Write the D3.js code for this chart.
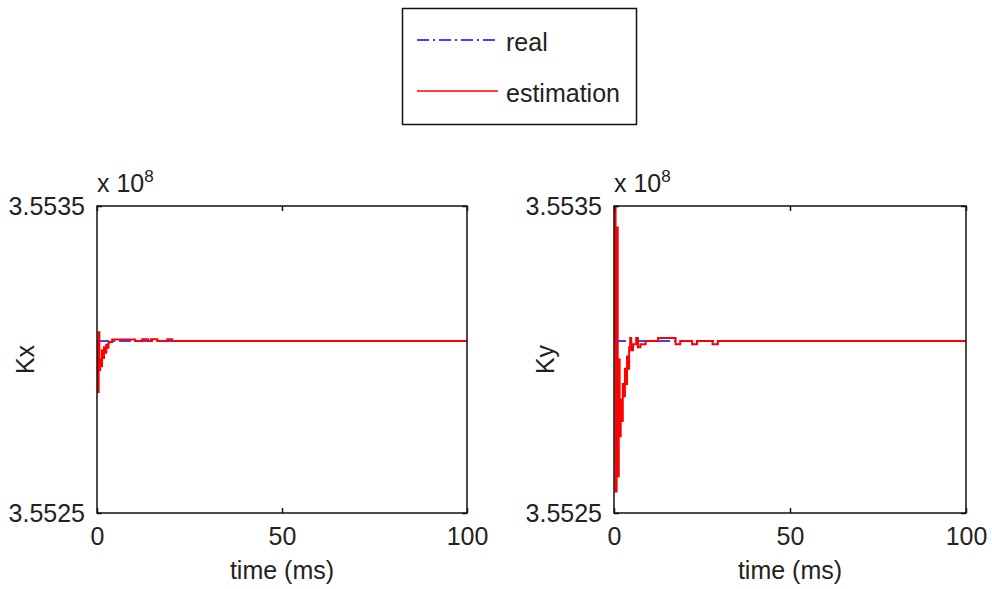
<!DOCTYPE html>
<html>
<head>
<meta charset="utf-8">
<script src="https://cdn.jsdelivr.net/npm/d3@7"></script>
<style>
  html, body { margin: 0; padding: 0; background: #fff; }
  text { font-family: "Liberation Sans", Arial, sans-serif; fill: #222; }
</style>
</head>
<body>
<svg id="chart" width="992" height="589"></svg>
<script>
// ---- data (values in units of 1e8) ----
const xTicks = [0, 50, 100];
const yTicks = [3.5525, 3.5535];
const yTickLabels = ["3.5525", "3.5535"];
const xDomain = [0, 100];
const yDomain = [3.5525, 3.5535];
const realValue = 3.55306;

const realTime = [0, 100];
const realKx = [realValue, realValue];
const realKy = [realValue, realValue];

const kxTime = [0, 0.2, 0.45, 0.65, 0.85, 1.1, 1.35, 1.6, 1.9, 2.2, 2.5, 2.8, 3.1, 3.4, 4.1, 10.3, 12.2, 13.8, 14.6, 16.3, 19.0, 20.3, 100];
const kxEst  = [3.55306, 3.552894, 3.553089, 3.552966, 3.553000, 3.552978, 3.553030, 3.553005, 3.553040, 3.553022, 3.553048, 3.553038, 3.553055, 3.553057, 3.553065, 3.55306, 3.553066, 3.55306, 3.553066, 3.55306, 3.553066, 3.55306, 3.55306];

const kyTime = [0, 0.2, 0.45, 0.75, 1.05, 1.35, 1.6, 1.9, 2.2, 2.5, 2.8, 3.1, 3.4, 3.7, 4.0, 4.3, 4.6, 4.9, 5.4, 6.3, 6.8, 7.5, 9.0, 12.5, 17.5, 18.8, 22.2, 23.6, 28.0, 29.5, 100];
const kyEst  = [3.55306, 3.55352, 3.55257, 3.55343, 3.55262, 3.55300, 3.55275, 3.55287, 3.55280, 3.55292, 3.55288, 3.55297, 3.55292, 3.55301, 3.55297, 3.55304, 3.55307, 3.55303, 3.55305, 3.55307, 3.55304, 3.55305, 3.55306, 3.55307, 3.55305, 3.55306, 3.55305, 3.55306, 3.55305, 3.55306, 3.55306];

const seriesNames = ["real", "estimation"];
const seriesColors = ["#0000ff", "#ff0000"];

const svg = d3.select("#chart");

const panels = [
  { left: 97, right: 467, top: 206, bottom: 513, label: "Kx", labelX: 25, real: realKx, est: kxEst, estT: kxTime, id: "a" },
  { left: 614, right: 966, top: 206, bottom: 513, label: "Ky", labelX: 545, real: realKy, est: kyEst, estT: kyTime, id: "b" }
];

panels.forEach(p => {
  const x = d3.scaleLinear().domain(xDomain).range([p.left, p.right]);
  const y = d3.scaleLinear().domain(yDomain).range([p.bottom, p.top]);
  const g = svg.append("g");

  g.append("clipPath").attr("id", "clip" + p.id)
    .append("rect").attr("x", p.left).attr("y", p.top)
    .attr("width", p.right - p.left).attr("height", p.bottom - p.top);

  const plot = g.append("g").attr("clip-path", `url(#clip${p.id})`);
  const lineReal = d3.line().x((d, i) => x(realTime[i])).y(d => y(d));
  plot.append("path").datum(p.real)
    .attr("d", lineReal).attr("fill", "none")
    .attr("stroke", seriesColors[0]).attr("stroke-width", 1.5)
    .attr("stroke-dasharray", "12,4,2,4");

  const lineEst = d3.line().curve(d3.curveStepAfter)
    .x((d, i) => x(p.estT[i])).y(d => y(d));
  plot.append("path").datum(p.est)
    .attr("d", lineEst).attr("fill", "none")
    .attr("stroke", seriesColors[1]).attr("stroke-width", 2);

  // axes box
  g.append("rect").attr("x", p.left).attr("y", p.top)
    .attr("width", p.right - p.left).attr("height", p.bottom - p.top)
    .attr("fill", "none").attr("stroke", "#111").attr("stroke-width", 1.5);

  // bottom axis (ticks inward)
  const xb = g.append("g").attr("transform", `translate(0,${p.bottom})`)
    .call(d3.axisBottom(x).tickValues(xTicks).tickSize(-5).tickPadding(14).tickFormat(d3.format("d")));
  const xt = g.append("g").attr("transform", `translate(0,${p.top})`)
    .call(d3.axisTop(x).tickValues(xTicks).tickSize(-5).tickFormat(""));
  const yl = g.append("g").attr("transform", `translate(${p.left},0)`)
    .call(d3.axisLeft(y).tickValues(yTicks).tickSize(-5).tickPadding(12)
      .tickFormat((d, i) => yTickLabels[i]));
  const yr = g.append("g").attr("transform", `translate(${p.right},0)`)
    .call(d3.axisRight(y).tickValues(yTicks).tickSize(-5).tickFormat(""));
  [xb, xt, yl, yr].forEach(a => {
    a.select(".domain").remove();
    a.selectAll(".tick line").attr("stroke", "#111").attr("stroke-width", 1.5);
    a.selectAll(".tick text").attr("font-size", 25).attr("font-family", "Liberation Sans, Arial, sans-serif").attr("fill", "#222");
  });
  xb.selectAll(".tick text").attr("dy", "0.71em");

  // exponent label
  const ex = g.append("text").attr("x", p.left).attr("y", p.top - 14)
    .attr("font-size", 25);
  ex.append("tspan").text("x 10");
  ex.append("tspan").attr("dy", -10).attr("font-size", 17).text("8");

  // axis labels
  g.append("text").attr("x", (p.left + p.right) / 2).attr("y", 579)
    .attr("text-anchor", "middle").attr("font-size", 25).text("time (ms)");
  g.append("text").attr("transform", `translate(${p.labelX + 9},${(p.top + p.bottom) / 2}) rotate(-90)`)
    .attr("text-anchor", "middle").attr("font-size", 25).text(p.label);
});

// legend
const lg = svg.append("g");
lg.append("rect").attr("x", 402.5).attr("y", 8.5).attr("width", 234).attr("height", 116)
  .attr("fill", "#fff").attr("stroke", "#111").attr("stroke-width", 1.5);
const legendY = [40, 91];
seriesNames.forEach((name, i) => {
  lg.append("line").attr("x1", 417).attr("x2", 498).attr("y1", legendY[i]).attr("y2", legendY[i])
    .attr("stroke", seriesColors[i]).attr("stroke-width", 1.5)
    .attr("stroke-dasharray", i === 0 ? "12,4,2,4" : null);
  lg.append("text").attr("x", 506).attr("y", legendY[i] + 2).attr("dy", "0.35em")
    .attr("font-size", 25).text(name);
});
</script>
</body>
</html>
